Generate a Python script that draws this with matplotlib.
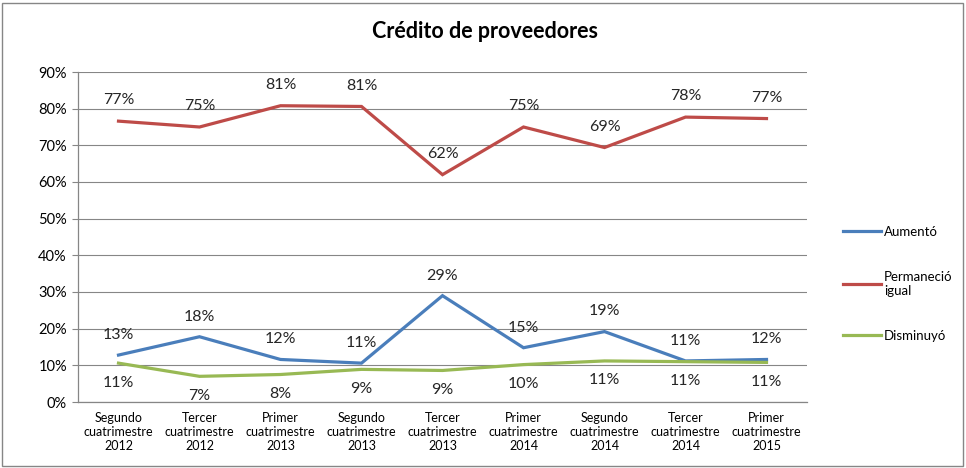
import matplotlib
matplotlib.use("Agg")
import matplotlib.pyplot as plt
from matplotlib.patches import Rectangle

plt.rcParams['font.family'] = ['Lato', 'DejaVu Sans']

categories = ["Segundo\ncuatrimestre\n2012", "Tercer\ncuatrimestre\n2012", "Primer\ncuatrimestre\n2013",
              "Segundo\ncuatrimestre\n2013", "Tercer\ncuatrimestre\n2013", "Primer\ncuatrimestre\n2014",
              "Segundo\ncuatrimestre\n2014", "Tercer\ncuatrimestre\n2014", "Primer\ncuatrimestre\n2015"]
aumento = [12.8, 17.8, 11.6, 10.6, 29.0, 14.8, 19.2, 11.2, 11.6]
permanecio = [76.6, 75.0, 80.8, 80.6, 62.0, 75.0, 69.4, 77.7, 77.3]
disminuyo = [10.6, 7.0, 7.5, 8.9, 8.6, 10.2, 11.2, 11.0, 10.8]
series_names = ["Aumentó", "Permaneció\nigual", "Disminuyó"]
yticks = [0, 10, 20, 30, 40, 50, 60, 70, 80, 90]
title = "Crédito de proveedores"

colors = ["#4A7EBB", "#BE4B48", "#98B954"]

fig = plt.figure(figsize=(9.66, 4.68), dpi=100)
ax = fig.add_axes([78/966, 1-402/468, 729/966, 330/468])

x = list(range(len(categories)))
series = [aumento, permanecio, disminuyo]
offsets = [14.5, 15, -14]
for vals, name, c, off in zip(series, series_names, colors, offsets):
    ax.plot(x, vals, color=c, lw=2.3, label=name, solid_joinstyle='miter')
    for xi, v in zip(x, vals):
        ax.annotate(f"{round(v):.0f}%", (xi, v), xytext=(0, off), textcoords='offset points',
                    ha='center', va='center', fontsize=11.5, color='#262626')

ax.set_xlim(-0.5, len(categories) - 0.5)
ax.set_ylim(0, 90)
ax.set_yticks(yticks)
ax.set_yticklabels([f"{t}%" for t in yticks], fontsize=10.5)
ax.set_xticks(x)
ax.set_xticklabels(categories, fontsize=9, linespacing=1.2)
ax.tick_params(axis='x', length=0, pad=7)
ax.tick_params(axis='y', length=4, color='#868686', pad=4)
ax.grid(axis='y', color='#868686', lw=0.8)
ax.set_axisbelow(True)
for s in ['top', 'right']:
    ax.spines[s].set_visible(False)
for s in ['left', 'bottom']:
    ax.spines[s].set_color('#868686')
    ax.spines[s].set_linewidth(0.9)

fig.text(485/966, 1-32/468, title, ha='center', va='center', fontsize=15.5, fontweight='bold')

leg = fig.legend(loc='upper left', bbox_to_anchor=(831/966, 1-214/468), frameon=False,
                 fontsize=9.5, handlelength=2.9, handletextpad=0.2, labelspacing=2.5)

fig.add_artist(Rectangle((2/966, 2/468), 961/966, 463/468, transform=fig.transFigure,
                         fill=False, edgecolor='#868686', lw=1))

fig.savefig("out.png", dpi=100)
